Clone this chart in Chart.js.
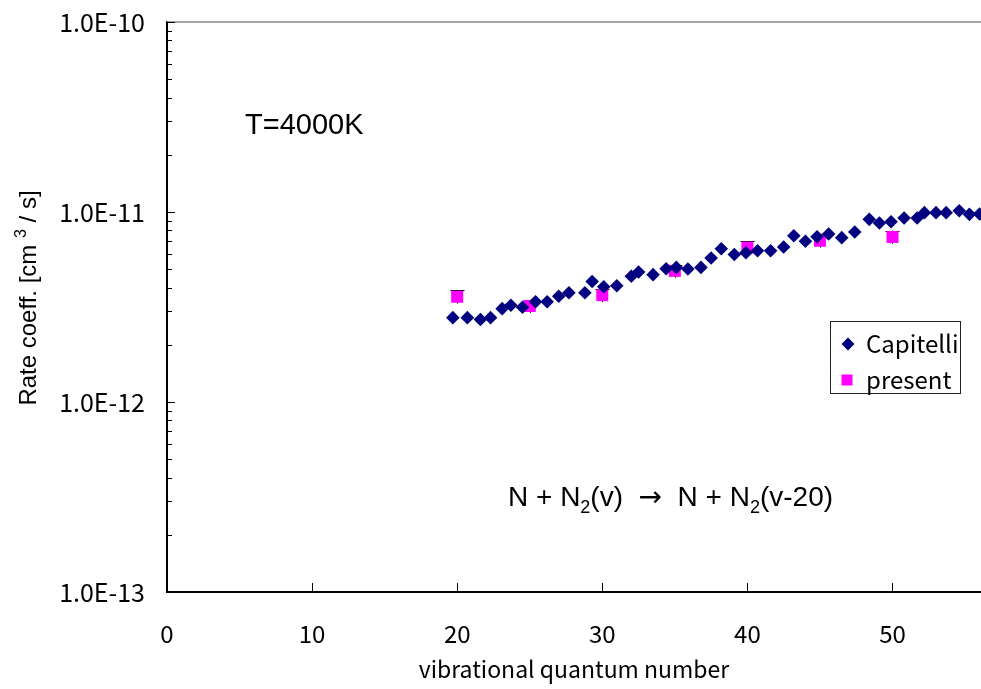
<!DOCTYPE html>
<html>
<head>
<meta charset="utf-8">
<script src="https://cdn.jsdelivr.net/npm/chart.js@4/dist/chart.umd.min.js"></script>
<style>
  html, body { margin: 0; padding: 0; background: #fff; }
  #wrap { width: 981px; height: 689px; }
</style>
</head>
<body>
<div id="wrap"><canvas id="grafico" width="981" height="689"></canvas></div>
<script>
// dati (coeff. in cm3/s)
const capX = [19.7, 20.7, 21.6, 22.3, 23.1, 23.7, 24.5, 25.4, 26.2, 27.0, 27.7, 28.8, 29.3, 30.1, 31.0,
              32.0, 32.5, 33.5, 34.4, 35.1, 35.9, 36.8, 37.5, 38.2, 39.1, 39.9, 40.7, 41.6, 42.5, 43.2,
              44.0, 44.8, 45.6, 46.5, 47.4, 48.4, 49.1, 49.9, 50.8, 51.7, 52.2, 53.0, 53.7, 54.6, 55.3, 56.0];
const capY = [2.78e-12, 2.78e-12, 2.72e-12, 2.78e-12, 3.10e-12, 3.23e-12, 3.15e-12, 3.37e-12, 3.37e-12, 3.60e-12,
              3.76e-12, 3.76e-12, 4.31e-12, 4.04e-12, 4.09e-12, 4.59e-12, 4.83e-12, 4.68e-12, 5.03e-12, 5.11e-12,
              5.01e-12, 5.11e-12, 5.73e-12, 6.41e-12, 5.98e-12, 6.10e-12, 6.25e-12, 6.25e-12, 6.54e-12, 7.50e-12,
              7.01e-12, 7.41e-12, 7.66e-12, 7.33e-12, 7.85e-12, 9.15e-12, 8.75e-12, 8.89e-12, 9.30e-12, 9.30e-12,
              9.92e-12, 9.92e-12, 9.92e-12, 1.016e-11, 9.72e-12, 9.76e-12];
const presX = [20, 25, 30, 35, 40, 45, 50];
const presY = [3.58e-12, 3.20e-12, 3.65e-12, 4.90e-12, 6.49e-12, 7.06e-12, 7.39e-12];
const presErr = [0.08, 0.08, 0.08, 0.08, 0.08, 0.08, 0.08]; // errore relativo
const xTicks = [0, 10, 20, 30, 40, 50];
const yDecadi = [1e-13, 1e-12, 1e-11, 1e-10];
const etichette = ['Capitelli', 'present'];

const fontTick = '"Noto Sans CJK JP", "DejaVu Sans", sans-serif';
const fontArial = '"Liberation Sans", Arial, sans-serif';

// tutti i tick del log (1..9 per decade)
function tickLog() {
    let t = [];
    for (let d = 0; d < yDecadi.length; d++) {
        if (d == yDecadi.length - 1) { t.push(yDecadi[d]); break; }
        for (let k = 1; k <= 9; k++) t.push(k * yDecadi[d]);
    }
    return t;
}

// scrive una riga fatta di pezzi normali / apice / pedice / freccia, ritorna la larghezza
function pezzi(ctx, lista, x, y, size, disegna = true) {
    let w = 0;
    lista.forEach(([t, tipo]) => {
        const s = (tipo == 'sub' || tipo == 'sup') ? Math.round(size * 0.65) : size;
        ctx.font = s + 'px ' + (tipo == 'arrow' ? '"DejaVu Sans", sans-serif' : fontArial);
        const dy = tipo == 'sub' ? size * 0.25 : (tipo == 'sup' ? -size * 0.42 : 0);
        if (disegna) ctx.fillText(t, x + w, y + dy);
        w += ctx.measureText(t).width;
    });
    return w;
}

// barre di errore sotto i quadrati
const erroriPlugin = {
    id: 'errori',
    beforeDatasetsDraw(chart) {
        const ctx = chart.ctx, xs = chart.scales.x, ys = chart.scales.y;
        ctx.save();
        ctx.strokeStyle = '#000';
        ctx.lineWidth = 1;
        presX.forEach((v, i) => {
            const x = Math.round(xs.getPixelForValue(v)) + 0.5;
            const yt = ys.getPixelForValue(presY[i] * (1 + presErr[i]));
            const yb = ys.getPixelForValue(presY[i] * (1 - presErr[i]));
            ctx.beginPath();
            ctx.moveTo(x, yt); ctx.lineTo(x, yb);
            ctx.moveTo(x - 7, Math.round(yt) + 0.5); ctx.lineTo(x + 7, Math.round(yt) + 0.5);
            ctx.stroke();
        });
        ctx.restore();
    }
};

// tick interni, bordo superiore, testi e leggenda
const decorPlugin = {
    id: 'decor',
    afterDraw(chart) {
        const ctx = chart.ctx, a = chart.chartArea, xs = chart.scales.x, ys = chart.scales.y;
        ctx.save();
        // bordo superiore grigio
        ctx.strokeStyle = '#888';
        ctx.lineWidth = 1.5;
        ctx.beginPath();
        ctx.moveTo(a.left, a.top); ctx.lineTo(a.right, a.top);
        ctx.stroke();
        // tick verso l'interno
        ctx.strokeStyle = '#000';
        ctx.lineWidth = 1;
        ctx.beginPath();
        xTicks.forEach(v => {
            if (v == 0) return;
            const x = Math.round(xs.getPixelForValue(v)) + 0.5;
            ctx.moveTo(x, a.bottom); ctx.lineTo(x, a.bottom - 9);
        });
        tickLog().forEach(v => {
            const y = Math.round(ys.getPixelForValue(v)) + 0.5;
            const major = yDecadi.includes(v);
            ctx.moveTo(a.left, y); ctx.lineTo(a.left + (major ? 8 : 5), y);
        });
        ctx.stroke();

        // testi
        ctx.fillStyle = '#000';
        ctx.textBaseline = 'alphabetic';
        ctx.textAlign = 'left';
        ctx.font = '29px ' + fontArial;
        ctx.fillText('T=4000K', 245, 134);

        // N + N2(v) -> N + N2(v-20)
        const reazione = [['N + N', ''], ['2', 'sub'], ['(v)  ', ''], ['\u2192', 'arrow'], ['  N + N', ''], ['2', 'sub'], ['(v-20)', '']];
        pezzi(ctx, reazione, 508, 506, 28);

        // titolo asse y, ruotato
        const titoloY = [['Rate coeff. [cm ', ''], ['3', 'sup'], [' / s]', '']];
        ctx.save();
        ctx.translate(36, 298);
        ctx.rotate(-Math.PI / 2);
        const w = pezzi(ctx, titoloY, 0, 0, 24, false);
        pezzi(ctx, titoloY, -w / 2, 0, 24);
        ctx.restore();

        // leggenda
        ctx.strokeStyle = '#222';
        ctx.lineWidth = 1;
        ctx.strokeRect(830.5, 321.5, 130, 72);
        const ds = chart.data.datasets;
        // rombo
        ctx.fillStyle = ds[0].backgroundColor;
        ctx.beginPath();
        ctx.moveTo(848, 337.5); ctx.lineTo(854.5, 344); ctx.lineTo(848, 350.5); ctx.lineTo(841.5, 344);
        ctx.closePath();
        ctx.fill();
        // quadrato
        ctx.fillStyle = ds[1].backgroundColor;
        ctx.fillRect(841.5, 374.5, 11, 11);
        ctx.fillStyle = '#000';
        ctx.font = '24px ' + fontTick;
        ctx.textBaseline = 'middle';
        ctx.fillText(etichette[0], 866, 344);
        ctx.fillText(etichette[1], 866, 380);
        ctx.restore();
    }
};

const ctx = document.getElementById('grafico');
const grafico = new Chart(ctx, {
    type: 'scatter',
    data: {
        datasets: [
            {
                label: etichette[0],
                data: capX.map((v, i) => ({ x: v, y: capY[i] })),
                pointStyle: 'rectRot',
                radius: 6.8,
                backgroundColor: '#000080',
                borderColor: '#000080',
                borderWidth: 0
            },
            {
                label: etichette[1],
                data: presX.map((v, i) => ({ x: v, y: presY[i] })),
                pointStyle: 'rect',
                radius: 8.5,
                backgroundColor: '#ff00ff',
                borderColor: '#ff00ff',
                borderWidth: 0
            }
        ]
    },
    options: {
        responsive: false,
        devicePixelRatio: 1,
        animation: false,
        layout: { autoPadding: false, padding: { top: 22, right: 0, left: 0, bottom: 0 } },
        plugins: {
            legend: { display: false },
            tooltip: { enabled: false }
        },
        scales: {
            x: {
                type: 'linear',
                min: 0,
                max: 56.1,
                afterBuildTicks: s => { s.ticks = xTicks.map(v => ({ value: v })); },
                afterFit: s => { s.height = 97; s.paddingLeft = 0; s.paddingRight = 0; },
                grid: { display: false },
                border: { display: true, color: '#000', width: 2 },
                ticks: {
                    color: '#000',
                    padding: 19,
                    maxRotation: 0,
                    font: { family: fontTick, size: 24 },
                    callback: v => String(v)
                },
                title: {
                    display: true,
                    text: 'vibrational quantum number',
                    color: '#000',
                    font: { family: fontTick, size: 23 },
                    padding: { top: 0, bottom: 6 }
                }
            },
            y: {
                type: 'logarithmic',
                min: 1e-13,
                max: 1e-10,
                afterBuildTicks: s => { s.ticks = tickLog().map(v => ({ value: v })); },
                afterFit: s => { s.width = 167; s.paddingTop = 0; s.paddingBottom = 0; },
                grid: { display: false },
                border: { display: true, color: '#000', width: 2 },
                ticks: {
                    color: '#000',
                    padding: 14,
                    autoSkip: false,
                    font: { family: fontTick, size: 25 },
                    callback: v => yDecadi.some(d => Math.abs(d - v) / d < 1e-6) ? v.toExponential(1).toUpperCase() : ''
                },
                title: { display: false }
            }
        }
    },
    plugins: [erroriPlugin, decorPlugin]
});
</script>
</body>
</html>
